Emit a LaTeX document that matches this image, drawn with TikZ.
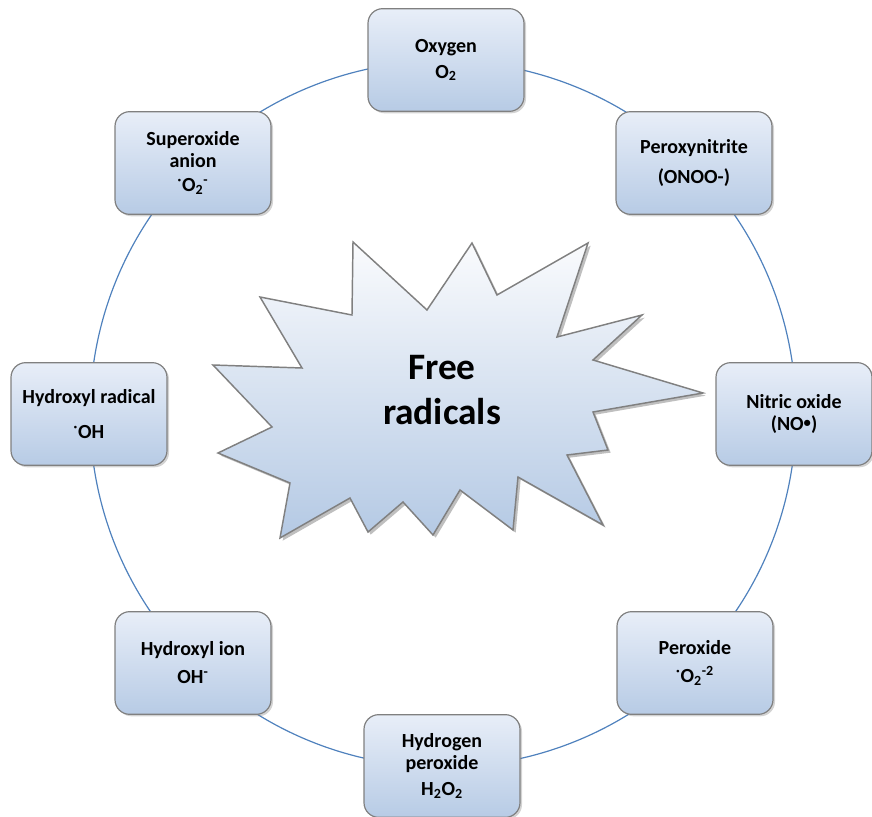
\documentclass[tikz,border=0pt]{standalone}
\usepackage{fontspec}
\setmainfont{Carlito}
\usetikzlibrary{shadows}

\definecolor{ringblue}{RGB}{79,129,189}
\definecolor{boxtop}{RGB}{232,238,248}
\definecolor{boxbot}{RGB}{183,203,229}
\definecolor{startop}{RGB}{250,251,253}
\definecolor{starbot}{RGB}{180,201,228}
\definecolor{edgegray}{RGB}{128,128,128}

\tikzset{
  radbox/.style={draw=edgegray, line width=0.9pt, rounded corners=11pt,
    top color=boxtop, bottom color=boxbot,
    minimum width=117pt, minimum height=77pt, align=center,
    font=\fontsize{15}{16.5}\selectfont\bfseries,
    drop shadow={shadow xshift=1.5pt, shadow yshift=-1.5pt, opacity=0.35}},
  burst/.style={draw=edgegray, line width=1.1pt, line join=miter,
    top color=startop, bottom color=starbot,
    drop shadow={shadow xshift=2pt, shadow yshift=-2pt, opacity=0.5}},
}

\begin{document}
\begin{tikzpicture}[x=0.75pt, y=-0.75pt]
    \useasboundingbox (0,0) rectangle (872,817);

    % Ring behind the boxes
    \coordinate (ctr) at (443,414);
    \draw[ringblue, line width=0.9pt] (ctr) circle[radius=353];

    % Central burst
    \path[burst] (353,242) -- (427,310) -- (472,243) -- (497,295) -- (588,243)
      -- (557,337) -- (642,315) -- (593,360) -- (703,393) -- (593,412)
      -- (608,450) -- (567,455) -- (603,525) -- (518,477) -- (513,530)
      -- (460,490) -- (433,535) -- (403,502) -- (368,532) -- (350,498)
      -- (280,538) -- (290,483) -- (218,453) -- (272,427) -- (213,365)
      -- (302,368) -- (260,297) -- (352,315) -- cycle;
    \node[align=center, font=\fontsize{28}{34}\selectfont\bfseries] (free) at (442,390) {Free\\radicals};

    % Species around the ring
    \node[radbox] (oxygen) at (446,60) {Oxygen\\[3pt]O\textsubscript{2}};
    \node[radbox] (peroxynitrite) at (694,163) {Peroxynitrite\\[6pt](ONOO-)};
    \node[radbox] (nitric) at (794,414) {Nitric oxide\\(NO\raisebox{2pt}{\fontsize{11}{11}\selectfont •})};
    \node[radbox] (peroxide) at (695,663) {Peroxide\\[4.5pt]\textsuperscript{·}O\textsubscript{2}\textsuperscript{-2}};
    \node[radbox] (hperoxide) at (442,766) {Hydrogen\\peroxide\\[3pt]H\textsubscript{2}O\textsubscript{2}};
    \node[radbox] (hion) at (193,663) {Hydroxyl ion\\[4.5pt]OH\textsuperscript{-}};
    \node[radbox] (hradical) at (89,414) {Hydroxyl radical\\[10pt]\textsuperscript{·}OH};
    \node[radbox] (superoxide) at (193,163) {Superoxide\\anion\\[2pt]\textsuperscript{·}O\textsubscript{2}\textsuperscript{-}};
\end{tikzpicture}
\end{document}
